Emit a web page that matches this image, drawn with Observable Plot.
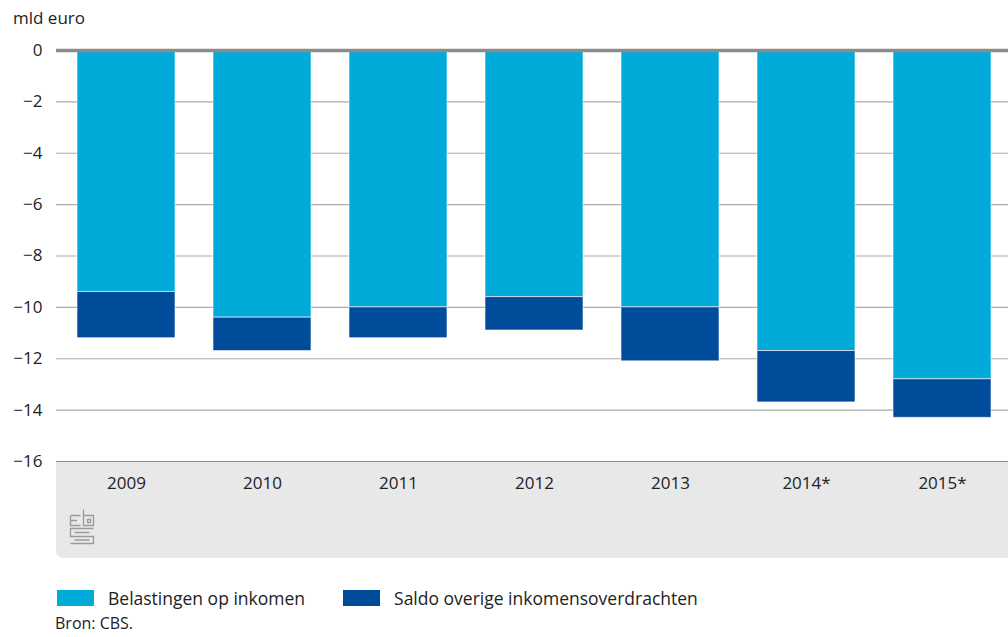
<!DOCTYPE html>
<html>
<head>
<meta charset="utf-8">
<script src="https://cdn.jsdelivr.net/npm/d3@7"></script>
<script src="https://cdn.jsdelivr.net/npm/@observablehq/plot@0.6"></script>
<style>
  body { margin: 0; background: #fff; font-family: "Open Sans", sans-serif; color: #222; }
  #wrap { position: relative; width: 1008px; height: 637px; overflow: hidden; }
  #unit { position: absolute; left: 13px; top: 6px; font-size: 17px; color: #222; }
  #chart { position: absolute; left: 0; top: 30px; }
  #legend { position: absolute; left: 57px; top: 586px; font-size: 17.5px; display: flex; align-items: center; }
  .sw { display: inline-block; width: 37px; height: 16px; margin-right: 14px; }
  .item { display: flex; align-items: center; margin-right: 38px; }
  #source { position: absolute; left: 55px; top: 616px; font-size: 16px; line-height: 14px; }
</style>
</head>
<body>
<div id="wrap">
  <div id="unit">mld euro</div>
  <div id="chart"></div>
  <div id="legend"></div>
  <div id="source">Bron: CBS.</div>
</div>
<script>
const years = ["2009", "2010", "2011", "2012", "2013", "2014*", "2015*"];
const belastingen = [-9.4, -10.4, -10.0, -9.6, -10.0, -11.7, -12.8];
const saldo = [-1.8, -1.3, -1.2, -1.3, -2.1, -2.0, -1.5];
const seriesNames = ["Belastingen op inkomen", "Saldo overige inkomensoverdrachten"];
const colors = ["#00aad9", "#004b9a"];
const yTicks = [0, -2, -4, -6, -8, -10, -12, -14, -16];

const data = [];
years.forEach((y, i) => {
  data.push({year: y, series: seriesNames[0], value: belastingen[i]});
  data.push({year: y, series: seriesNames[1], value: saldo[i]});
});

const plot = Plot.plot({
  width: 1008,
  height: 528,
  marginTop: 20,
  marginBottom: 97,
  marginLeft: 56,
  marginRight: 0,
  style: {fontFamily: "'Open Sans', sans-serif", fontSize: "17px", color: "#222", background: "transparent", overflow: "visible"},
  x: {domain: years, range: [56, 1013], paddingInner: 0.276, paddingOuter: 0.138, label: null, tickSize: 0, tickPadding: 15},
  y: {domain: [-16, 0], ticks: yTicks, label: null, tickSize: 0, tickPadding: 14},
  color: {domain: seriesNames, range: colors},
  marks: [
    Plot.ruleY(yTicks.filter(d => d !== 0 && d !== -16), {stroke: "#aaaaaa", strokeWidth: 1.2}),
    Plot.barY(data, {x: "year", y: "value", fill: "series", stroke: "#ffffff", strokeWidth: 1, strokeOpacity: 0.6}),
    Plot.ruleY([-16], {stroke: "#8c8c8c", strokeWidth: 1}),
    Plot.ruleY([0], {stroke: "#8c8c8c", strokeWidth: 3.5})
  ]
});
document.getElementById("chart").appendChild(plot);

// grey axis band behind everything
const svg = d3.select(plot);
const bx = 56, by = 461 - 30, bw = 1008 - 56, bh = 97, r = 8;
svg.insert("path", ":first-child")
  .attr("d", `M${bx},${by}H${bx + bw}V${by + bh}H${bx + r}Q${bx},${by + bh} ${bx},${by + bh - r}Z`)
  .attr("fill", "#e8e8e8");

// CBS logo
const g = svg.append("g").attr("transform", `translate(70, ${509 - 30})`)
  .attr("fill", "none").attr("stroke", "#9a9a9a").attr("stroke-width", 1.3);
g.append("path").attr("d", "M0.5,6.5 H10.5 M0.5,6.5 V16.5 H10.5 M0.5,11.5 H7");
g.append("path").attr("d", "M13.5,0.5 V16.5 H23.5 V6.5 H13.5 M17.5,10.5 H20.5 V13.5 H17.5 Z");
g.append("path").attr("d", "M23.5,19.5 H0.5 V27.5 H23.5 V34.5 H0.5 M19.5,23.5 H4.5 M4.5,31 H19.5");

// legend
const leg = document.getElementById("legend");
seriesNames.forEach((n, i) => {
  const it = document.createElement("div");
  it.className = "item";
  it.innerHTML = `<span class="sw" style="background:${colors[i]}"></span><span>${n}</span>`;
  leg.appendChild(it);
});
</script>
</body>
</html>
